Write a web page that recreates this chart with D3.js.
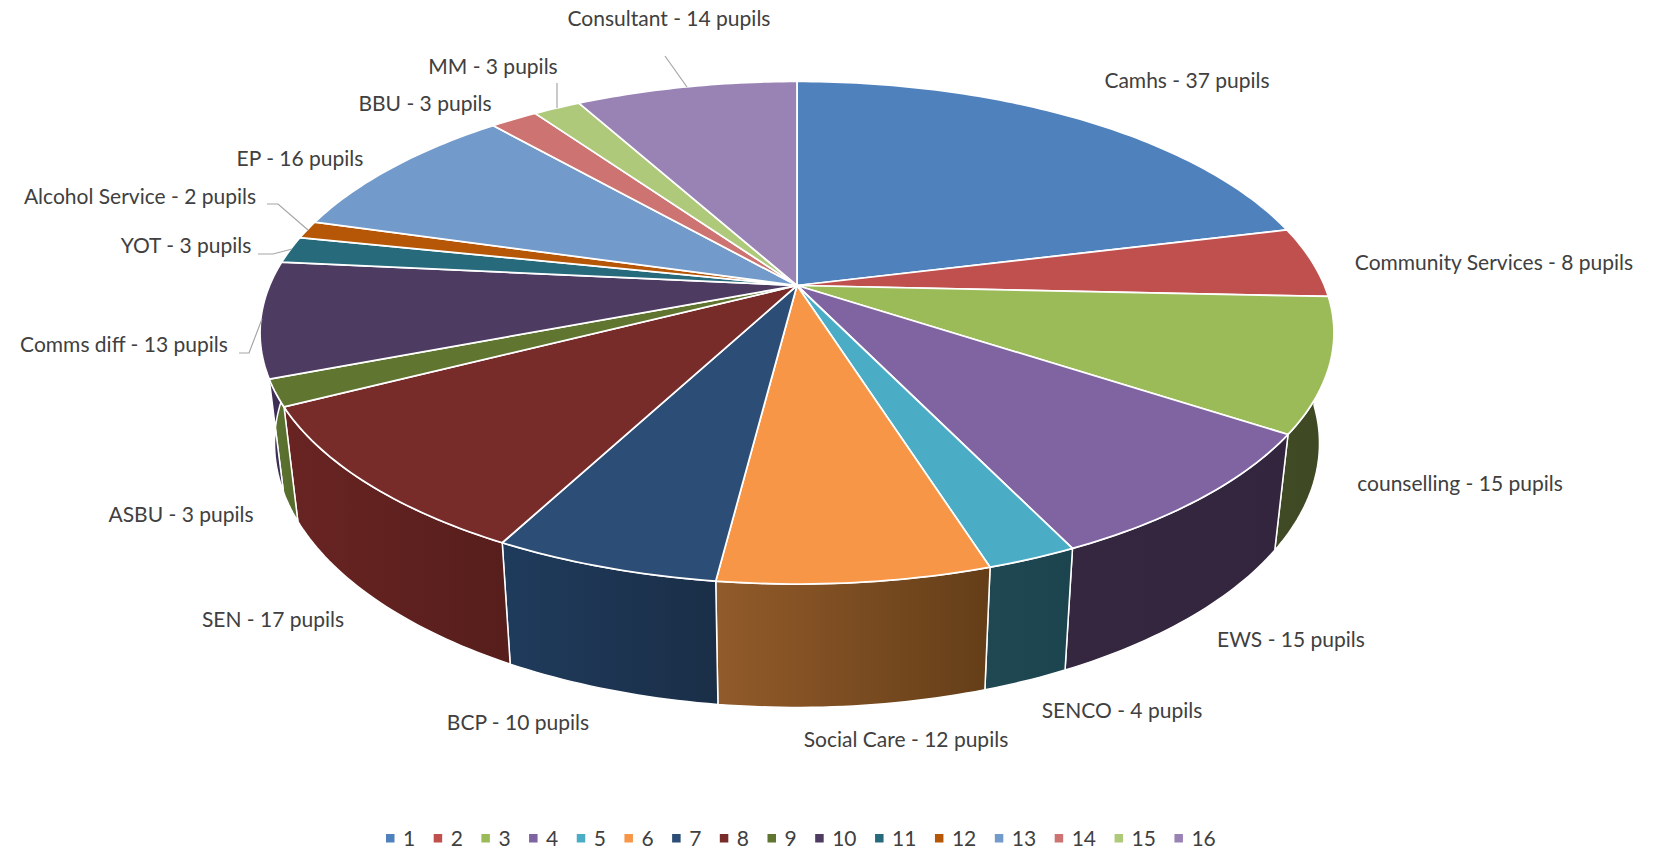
<!DOCTYPE html>
<html>
<head>
<meta charset="utf-8">
<script src="https://cdn.jsdelivr.net/npm/d3@7"></script>
<style>
    html, body { margin: 0; padding: 0; background: #fff; }
    text { font-family: Lato, "Open Sans", sans-serif; fill: #404040; }
</style>
</head>
<body>
<svg id="PieChart"></svg>
<script>
const categories = ["Camhs", "Community Services", "counselling", "EWS", "SENCO", "Social Care", "BCP", "SEN",
    "ASBU", "Comms diff", "YOT", "Alcohol Service", "EP", "BBU", "MM", "Consultant"];
const pupils = [37, 8, 15, 15, 4, 12, 10, 17, 3, 13, 3, 2, 16, 3, 3, 14];
const legendKeys = d3.range(1, 17).map(String);
const topColors = ["#4f81bd", "#c0504d", "#9bbb59", "#8064a2", "#4bacc6", "#f79646", "#2c4d75", "#772c2a",
    "#5f7530", "#4d3b62", "#276a7c", "#b65708", "#729aca", "#cd7371", "#afc97a", "#9983b5"];
// left and right colour of the wall, only the slices that show one
const wallColors = {
    2: ["#404b25", "#3e4923"],
    3: ["#35273f", "#32253d"],
    4: ["#204852", "#1c444e"],
    5: ["#925b2a", "#643e18"],
    6: ["#1f3b5c", "#1a2e47"],
    7: ["#692422", "#561e1c"],
    8: ["#5e7531", "#566b2c"],
    9: ["#41315a", "#382a4e"]
};

// label centres, picked by hand like the manual labels of the original
const labelCenters = [[1187, 81], [1494, 263], [1460, 484], [1291, 640], [1122, 711], [906, 740], [518, 723], [273, 620],
    [181, 515], [124, 345], [186, 246], [140, 197], [300, 159], [425, 104], [493, 67], [669, 19]];
const leaderLines = [
    [[665, 56], [687, 87]],
    [[557, 83], [557, 108]],
    [[267, 204], [278, 204], [308, 230]],
    [[258, 254], [273, 254], [292, 249]],
    [[239, 353], [249, 353], [262, 319]]
];

const width = 1655, height = 851;
const cx = 797, cy = 285.5;
const rx = 527.4, ry = 242.4, persp = 0.188;
const wallScale = 0.973, wallDrop = 114.4, wallStretch = 0.051, wallRef = 407;

const svg = d3.select("#PieChart").attr("width", width).attr("height", height);
const defs = svg.append("defs");
const color = d3.scaleOrdinal().domain(categories).range(topColors);

// angle runs clockwise from 12 o'clock, the far side is foreshortened
function project(angle, r) {
    const s = 1 / (1 + persp * r * Math.cos(angle));
    return [cx + rx * r * Math.sin(angle) * s, cy - ry * r * Math.cos(angle) * s];
}

function projectBottom(angle) {
    const p = project(angle, 1);
    return [cx + (p[0] - cx) * wallScale, p[1] + wallDrop + wallStretch * (p[1] - wallRef)];
}

function arcAngles(d) {
    const n = Math.max(4, Math.ceil((d.endAngle - d.startAngle) * 60));
    return d3.range(n + 1).map(i => d.startAngle + (d.endAngle - d.startAngle) * i / n);
}

const line = d3.line();
const arcs = d3.pie().sort(null).value(d => d)(pupils);

// walls first, the top surface covers whatever is hidden
const walls = svg.append("g").attr("class", "walls")
    .selectAll("path")
    .data(arcs.filter(d => wallColors[d.index]))
    .join("path")
    .attr("fill", d => {
        const id = "wall" + d.index;
        const grad = defs.append("linearGradient").attr("id", id);
        grad.append("stop").attr("offset", "0%").attr("stop-color", wallColors[d.index][0]);
        grad.append("stop").attr("offset", "100%").attr("stop-color", wallColors[d.index][1]);
        return "url(#" + id + ")";
    })
    .attr("stroke", "#fff")
    .attr("stroke-width", 1.5)
    .attr("stroke-linejoin", "round")
    .attr("d", d => {
        const angles = arcAngles(d);
        const pts = angles.map(a => project(a, 1)).concat(angles.slice().reverse().map(projectBottom));
        return line(pts) + "Z";
    });

svg.append("g").attr("class", "slices")
    .selectAll("path")
    .data(arcs)
    .join("path")
    .attr("fill", (d, i) => color(categories[i]))
    .attr("stroke", "#fff")
    .attr("stroke-width", 1.75)
    .attr("stroke-linejoin", "round")
    .attr("d", d => "M" + [cx, cy] + "L" + line(arcAngles(d).map(a => project(a, 1))).slice(1) + "Z");

svg.append("g").attr("class", "leaders")
    .selectAll("path")
    .data(leaderLines)
    .join("path")
    .attr("fill", "none")
    .attr("stroke", "#a6a6a6")
    .attr("stroke-width", 1.2)
    .attr("d", d => line(d));

svg.append("g").attr("class", "labels")
    .selectAll("text")
    .data(categories)
    .join("text")
    .attr("x", (d, i) => labelCenters[i][0])
    .attr("y", (d, i) => labelCenters[i][1])
    .attr("dy", "0.35em")
    .attr("text-anchor", "middle")
    .style("font-size", "21px")
    .text((d, i) => d + " - " + pupils[i] + " pupils");

// legend, laid out one after the other
let legendX = 386;
const legend = svg.append("g").attr("class", "legend");
legendKeys.forEach((key, i) => {
    legend.append("rect")
        .attr("x", legendX)
        .attr("y", 834)
        .attr("width", 8.5)
        .attr("height", 8.5)
        .attr("fill", topColors[i]);
    const label = legend.append("text")
        .attr("x", legendX + 17)
        .attr("y", 845.5)
        .style("font-size", "21px")
        .text(key);
    legendX += 17 + label.node().getComputedTextLength() + 18.5;
});
</script>
</body>
</html>
